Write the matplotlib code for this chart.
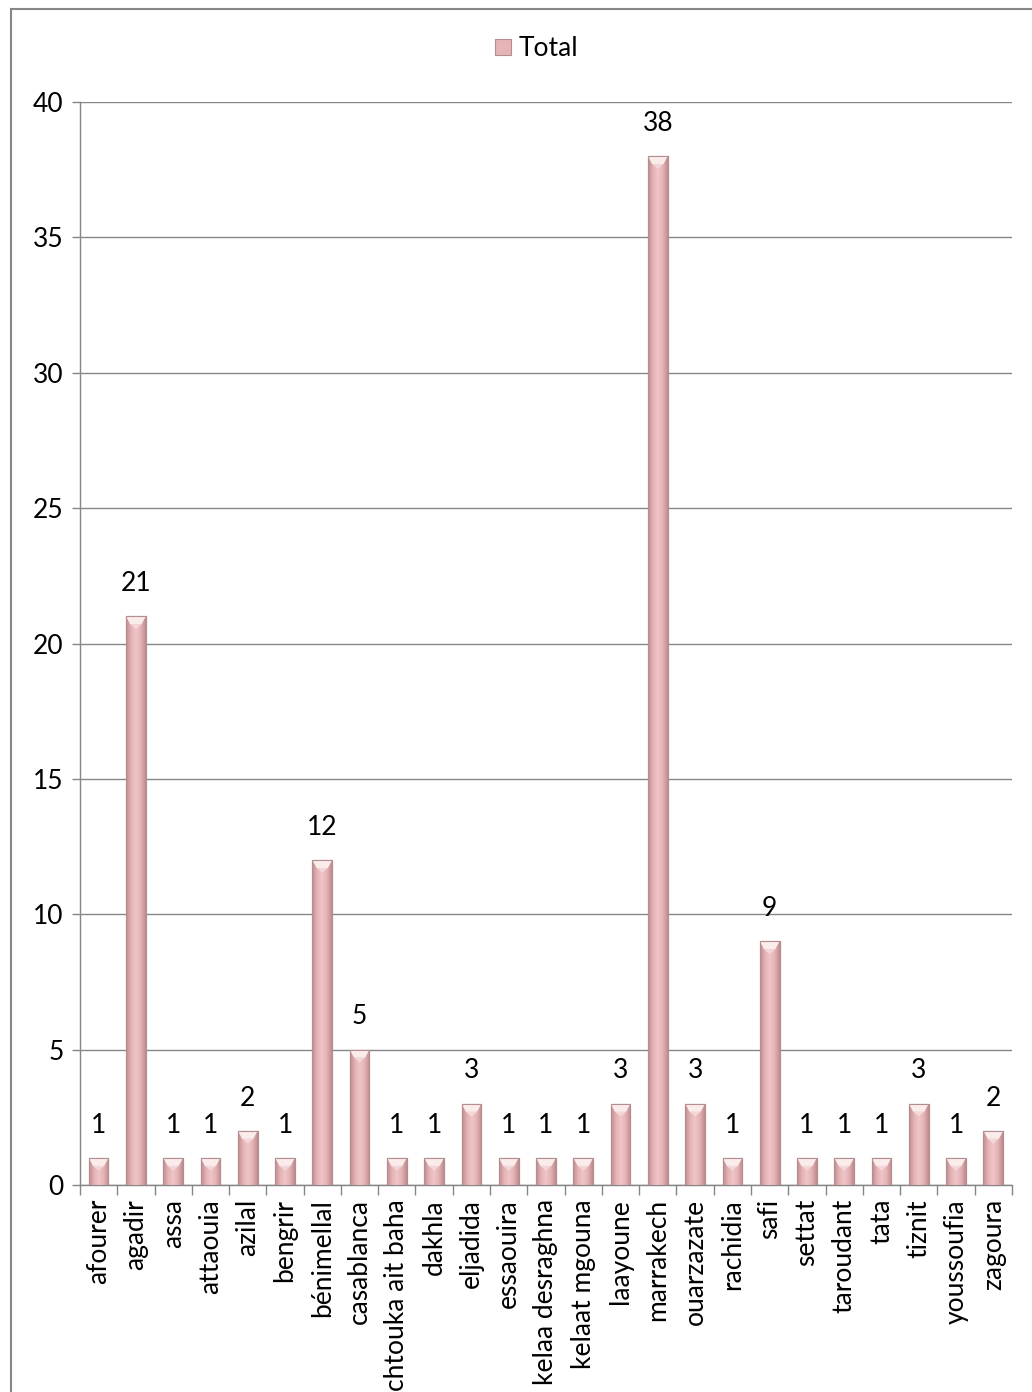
import numpy as np
import matplotlib
matplotlib.use('Agg')
from matplotlib import pyplot as plt
from matplotlib.patches import Rectangle, Polygon
from matplotlib.colors import LinearSegmentedColormap

plt.rcParams['font.family'] = ['Lato', 'DejaVu Sans']

villes = ['afourer', 'agadir', 'assa', 'attaouia', 'azilal', 'bengrir',
          'bénimellal', 'casablanca', 'chtouka ait baha', 'dakhla', 'eljadida',
          'essaouira', 'kelaa desraghna', 'kelaat mgouna', 'laayoune',
          'marrakech', 'ouarzazate', 'rachidia', 'safi', 'settat',
          'taroudant', 'tata', 'tiznit', 'youssoufia', 'zagoura']
total = [1, 21, 1, 1, 2, 1, 12, 5, 1, 1, 3, 1, 1, 1, 3, 38, 3, 1, 9, 1,
         1, 1, 3, 1, 2]
yticks = [0, 5, 10, 15, 20, 25, 30, 35, 40]

grey = '#868686'
fs = 19
rose = LinearSegmentedColormap.from_list(
    'rose', ['#bf8b8e', '#e4b2b5', '#f0c6c8', '#e4b2b5', '#bf8b8e'])

fig = plt.figure(figsize=(10.32, 13.92), dpi=100)
ax = fig.add_axes([0.0775, 0.1487, 0.9031, 0.778])

x = np.arange(len(villes))
w = 0.53
bars = ax.bar(x, total, width=w, color='#e6b3b6', edgecolor='#b48d90',
              linewidth=0.8, zorder=3, label='Total')

# gradient horizontal + biseau clair en haut de chaque barre
grad = np.linspace(0, 1, 64).reshape(1, -1)
ax.set_xlim(-0.5, len(villes) - 0.5)
ax.set_ylim(0, 40)
px_per_y = (0.778 * 1392) / 40.0
for b, v in zip(bars, total):
    x0 = b.get_x()
    im = ax.imshow(grad, cmap=rose, aspect='auto', extent=[x0, x0 + w, 0, v],
                   zorder=3.5, interpolation='bicubic')
    im.set_clip_path(b)
    d = 8.0 / px_per_y
    tri = Polygon([[x0, v], [x0 + w, v], [x0 + w * 0.78, v - d],
                   [x0 + w * 0.22, v - d]], closed=True,
                  facecolor='#fbecec', edgecolor='none', zorder=4)
    ax.add_patch(tri)
    ax.add_patch(Polygon([[x0 + w * 0.22, v - d], [x0 + w * 0.5, v - d * 1.6],
                          [x0 + w * 0.78, v - d]], closed=True,
                         facecolor='#f3d6d8', edgecolor='none', zorder=4))
    ax.add_patch(Rectangle((x0, 0), w, v, fill=False, edgecolor='#b48d90',
                           linewidth=0.8, zorder=4.5))
    ax.text(x0 + w / 2, v + 0.75, str(v), ha='center', va='bottom',
            fontsize=fs, color='black', zorder=5)

ax.set_yticks(yticks)
ax.set_yticklabels([str(t) for t in yticks], fontsize=fs)
ax.yaxis.grid(True, color=grey, linewidth=1.0, zorder=0)
ax.tick_params(axis='y', length=6, color=grey, width=1.0, pad=6)

ax.set_xticks(x)
ax.set_xticklabels(villes, rotation=90, fontsize=fs, va='top')
ax.set_xticks(np.arange(-0.5, len(villes)), minor=True)
ax.tick_params(axis='x', which='major', length=0, pad=10)
ax.tick_params(axis='x', which='minor', length=7, color=grey, width=1.0)

for s in ['top', 'right']:
    ax.spines[s].set_visible(False)
for s in ['left', 'bottom']:
    ax.spines[s].set_color(grey)
    ax.spines[s].set_linewidth(1.0)

leg = fig.legend(handles=[bars[0]], labels=['Total'], loc='center',
                 bbox_to_anchor=(0.52, 0.965), frameon=False, fontsize=fs,
                 handlelength=0.6, handleheight=0.6, handletextpad=0.3)

# cadre autour du graphique
fig.patches.append(Rectangle((11 / 1032, -0.01), 1.02, 1 - 9 / 1392 + 0.01,
                             transform=fig.transFigure, fill=False,
                             edgecolor=grey, linewidth=1.5))

fig.savefig('out.png', dpi=100)
